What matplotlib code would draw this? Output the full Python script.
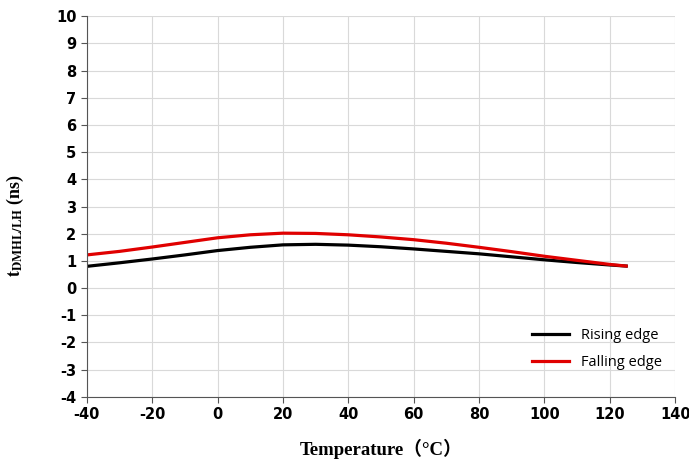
import matplotlib.pyplot as plt

temps = [-40, -30, -20, -10, 0, 10, 20, 30, 40, 50, 60, 70, 80, 90, 100, 110, 120, 125]
rising = [0.80, 0.93, 1.07, 1.22, 1.38, 1.50, 1.59, 1.61, 1.58, 1.52, 1.44, 1.35, 1.26, 1.15, 1.04, 0.94, 0.85, 0.81]
falling = [1.22, 1.35, 1.51, 1.68, 1.85, 1.96, 2.02, 2.01, 1.96, 1.88, 1.78, 1.65, 1.50, 1.34, 1.17, 1.02, 0.87, 0.81]

plt.rcParams['mathtext.fontset'] = 'stix'
plt.rcParams['axes.unicode_minus'] = False

fig = plt.figure(figsize=(6.89, 4.62), dpi=100)
ax = fig.add_axes([0.126, 0.141, 0.854, 0.824])

ax.plot(temps, rising, color='black', lw=2.3, label='Rising edge')
ax.plot(temps, falling, color='#e00000', lw=2.3, label='Falling edge')

ax.set_xlim(-40, 140)
ax.set_ylim(-4, 10)
ax.set_xticks(range(-40, 141, 20))
ax.set_yticks(range(-4, 11))
ax.grid(color='#d9d9d9', lw=0.8)
ax.set_axisbelow(True)
for s in ['top', 'right']:
    ax.spines[s].set_visible(False)
for s in ['left', 'bottom']:
    ax.spines[s].set_color('#555555')
ax.tick_params(length=4, color='#555555', labelsize=10.5)
for lab in ax.get_xticklabels() + ax.get_yticklabels():
    lab.set_fontweight('bold')
    lab.set_family('DejaVu Sans')

ax.set_xlabel('Temperature（°C）', family=['Liberation Serif', 'Noto Sans CJK SC'],
              fontweight='bold', fontsize=13.5, labelpad=12)
ax.set_ylabel(r'$\mathbf{t_{DMHL/LH}}$ (ns)', family='Liberation Serif',
              fontweight='bold', fontsize=13)
ax.yaxis.set_label_coords(-0.103, 0.45)

ax.legend(loc='upper left', bbox_to_anchor=(0.735, 0.215), frameon=False,
          prop={'family': 'Open Sans', 'size': 10.5}, handlelength=2.5,
          labelspacing=0.8)

fig.savefig('out.png')
